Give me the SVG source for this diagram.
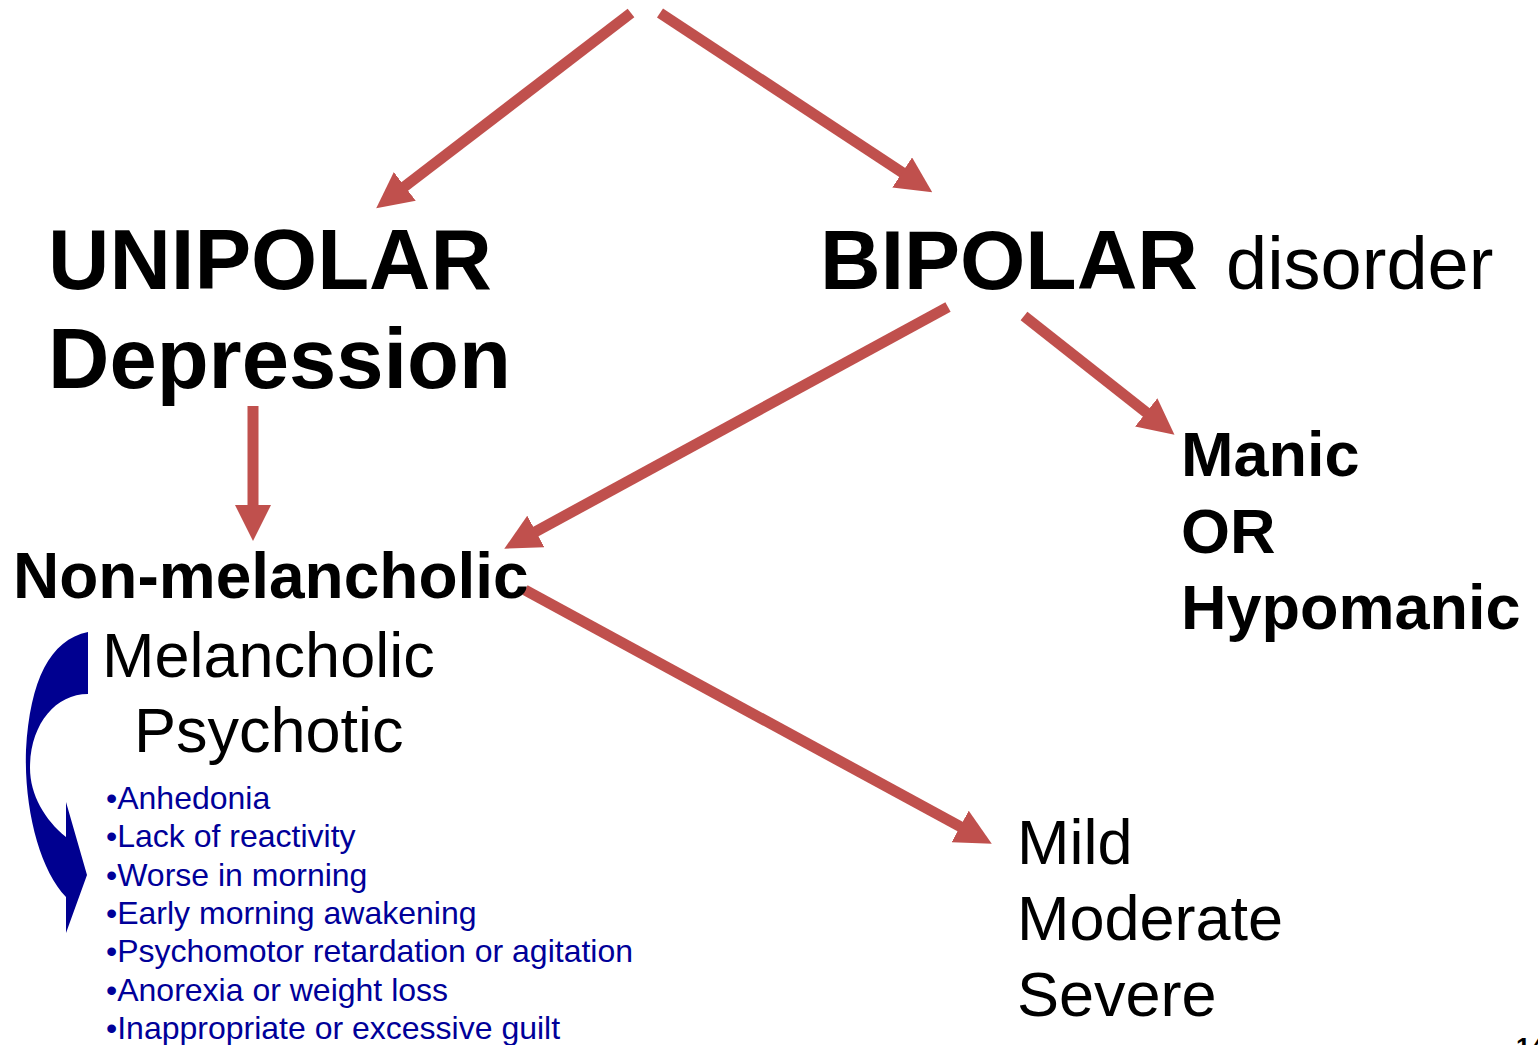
<svg xmlns="http://www.w3.org/2000/svg" width="1538" height="1045" viewBox="0 0 1538 1045">
<style>
.arr{stroke:#C0504D;stroke-width:11;fill:none;marker-end:url(#ah)}
.b{font-family:"Liberation Sans",Arial,sans-serif;font-weight:bold;fill:#000}
.r{font-family:"Liberation Sans",Arial,sans-serif;fill:#000}
.bl{font-family:"Liberation Sans",Arial,sans-serif;fill:#000099;font-size:32px}
</style>
<defs>
<marker id="ah" markerUnits="userSpaceOnUse" viewBox="0 -18 36 36" refX="1" refY="0" markerWidth="36" markerHeight="36" orient="auto">
<path d="M0,-18 L36,0 L0,18 Z" fill="#C0504D"/>
</marker>
</defs>
<rect width="1538" height="1045" fill="#fff"/>
<g id="connectors">
<line class="arr" x1="631" y1="13" x2="404" y2="187"/>
<line class="arr" x1="660" y1="13" x2="903" y2="173"/>
<line class="arr" x1="253" y1="406" x2="253" y2="506"/>
<line class="arr" x1="948" y1="307" x2="535" y2="532"/>
<line class="arr" x1="1024" y1="316" x2="1147" y2="413"/>
<line class="arr" x1="525" y1="590" x2="961" y2="827"/>
</g>
<g id="unipolar">
<text class="b" x="48" y="289" font-size="85">UNIPOLAR</text>
<text class="b" x="48" y="388" font-size="85">Depression</text>
</g>
<g id="bipolar">
<text class="b" x="820" y="289" font-size="84">BIPOLAR</text>
<text class="r" x="1226" y="289" font-size="74">disorder</text>
</g>
<g id="nonmelancholic">
<text class="b" x="13" y="598" font-size="64">Non-melancholic</text>
</g>
<g id="melancholic">
<text class="r" x="102" y="677" font-size="63">Melancholic</text>
<text class="r" x="134" y="752" font-size="63">Psychotic</text>
</g>
<g id="curved-arrow">
<path d="M88,632 C50,640 30,680 26,750 C24,810 40,870 66,897 L66,933 L87,875 L66,802 L66,837 C45,820 30,795 30,768 C30,725 55,694 88,694 Z" fill="#000090"/>
</g>
<g id="features">
<text class="bl" x="106" y="809">•Anhedonia</text>
<text class="bl" x="106" y="847">•Lack of reactivity</text>
<text class="bl" x="106" y="886">•Worse in morning</text>
<text class="bl" x="106" y="924">•Early morning awakening</text>
<text class="bl" x="106" y="962">•Psychomotor retardation or agitation</text>
<text class="bl" x="106" y="1001">•Anorexia or weight loss</text>
<text class="bl" x="106" y="1039">•Inappropriate or excessive guilt</text>
</g>
<g id="manic">
<text class="b" x="1181" y="476" font-size="63">Manic</text>
<text class="b" x="1181" y="553" font-size="63">OR</text>
<text class="b" x="1181" y="629" font-size="63">Hypomanic</text>
</g>
<g id="severity">
<text class="r" x="1017" y="864" font-size="63">Mild</text>
<text class="r" x="1017" y="940" font-size="63">Moderate</text>
<text class="r" x="1017" y="1016" font-size="63">Severe</text>
</g>
<text class="b" x="1516" y="1056" font-size="26">14</text>
</svg>
